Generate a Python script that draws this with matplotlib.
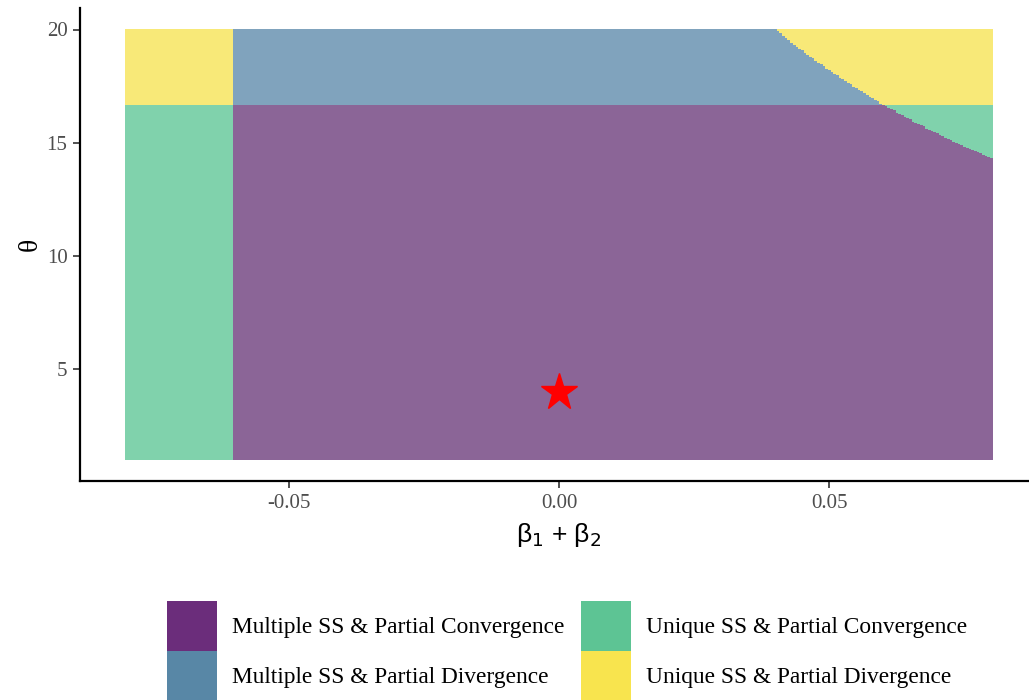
import numpy as np
import matplotlib
matplotlib.use("Agg")
import matplotlib.pyplot as plt
from matplotlib.colors import ListedColormap
from matplotlib.patches import Rectangle

# ---- data ----
regime_labels = ["Multiple SS & Partial Convergence", "Multiple SS & Partial Divergence",
                 "Unique SS & Partial Convergence", "Unique SS & Partial Divergence"]
legend_colors = ["#6B2D7B", "#5887A6", "#5DC494", "#F8E44E"]
fill_colors = ["#8B6597", "#80A3BD", "#80D2AC", "#F8E978"]

beta_grid = np.round(np.arange(-0.08, 0.08 + 1e-9, 0.0005), 5)
theta_grid = np.round(np.arange(1.0, 20.0 + 1e-9, 0.05), 3)

beta_unique_below = -0.06       # unique SS for beta sum below this
theta_divergence = 16.67        # divergence above this theta
# boundary of unique SS region at upper right
curve_beta = [0.040, 0.045, 0.050, 0.055, 0.060, 0.065, 0.070, 0.075, 0.080]
curve_theta = [20.0, 19.05, 18.2, 17.4, 16.67, 16.0, 15.4, 14.8, 14.3]

star_beta, star_theta = 0.0, 4.0

xticks = [-0.05, 0.0, 0.05]
xticklabels = ["-0.05", "0.00", "0.05"]
yticks = [5, 10, 15, 20]

# ---- classify grid ----
B, T = np.meshgrid(beta_grid, theta_grid)
bound = np.interp(beta_grid, curve_beta, curve_theta, left=np.inf, right=curve_theta[-1])
unique = (B < beta_unique_below) | (T > bound[None, :])
diverg = T > theta_divergence
regime = np.where(unique, 2, 0) + np.where(diverg, 1, 0)

# ---- plot ----
fig = plt.figure(figsize=(10.29, 7.0), dpi=100)
ax = fig.add_axes([80 / 1029, 1 - 481 / 700, (1038 - 80) / 1029, (481 - 8) / 700])

db = beta_grid[1] - beta_grid[0]
dt = theta_grid[1] - theta_grid[0]
xe = np.concatenate([beta_grid - db / 2, [beta_grid[-1] + db / 2]])
ye = np.concatenate([theta_grid - dt / 2, [theta_grid[-1] + dt / 2]])
ax.pcolormesh(xe, ye, regime, cmap=ListedColormap(fill_colors), vmin=-0.5, vmax=3.5,
              shading="flat", rasterized=True)

ax.plot([star_beta], [star_theta], marker="*", color="red", markersize=28, mec="red", zorder=5)

ax.set_xlim(-0.0886, 0.0886)
ax.set_ylim(0.05, 20.95)
ax.set_xticks(xticks)
ax.set_xticklabels(xticklabels)
ax.set_yticks(yticks)
for s in ["top", "right"]:
    ax.spines[s].set_visible(False)
for s in ["left", "bottom"]:
    ax.spines[s].set_linewidth(1.6)
    ax.spines[s].set_color("black")
ax.tick_params(axis="both", length=5, width=1.2, color="#333333", labelcolor="#4D4D4D",
               labelsize=15, pad=4)
for lab in ax.get_xticklabels() + ax.get_yticklabels():
    lab.set_family("Liberation Serif")

ax.set_xlabel("β$_1$ + β$_2$", fontsize=19, family="Liberation Sans", labelpad=6)
ax.set_ylabel("θ", fontsize=20, family="Liberation Serif", rotation=90, labelpad=3)

# ---- legend (manual, bottom) ----
W, H = 1029, 700
box_w, box_h = 50, 50
cols_x = [167, 581]
rows_y = [601, 651]
text_dx = 65
order = [(0, 0), (0, 1), (1, 0), (1, 1)]
for i, (c, r) in enumerate(order):
    x0 = cols_x[c]
    y0 = rows_y[r]
    fig.add_artist(Rectangle((x0 / W, 1 - (y0 + box_h) / H), box_w / W, box_h / H,
                             transform=fig.transFigure, facecolor=legend_colors[i],
                             edgecolor="none"))
    fig.text((x0 + text_dx) / W, 1 - (y0 + box_h / 2 + 2) / H, regime_labels[i],
             fontsize=16.8, family="Liberation Serif", va="center", ha="left", color="black")

fig.savefig("out.png", dpi=100)
